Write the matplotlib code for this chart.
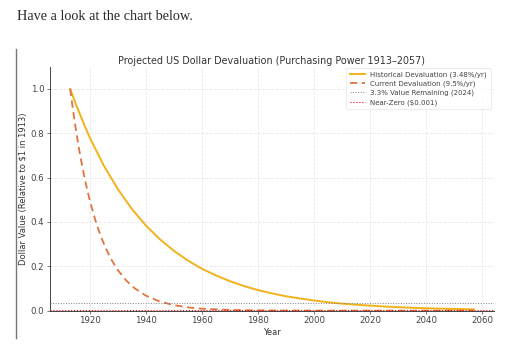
"""Projected US dollar devaluation chart, embedded in a page-like frame."""
import matplotlib
matplotlib.use('Agg')
import matplotlib.pyplot as plt
from matplotlib.lines import Line2D

# Values
hist_years = [1913, 1915, 1918, 1920, 1925, 1930, 1935, 1940, 1945, 1950, 1955,
              1960, 1965, 1970, 1975, 1980, 1985, 1990, 1995, 2000, 2005, 2010,
              2015, 2020, 2025, 2030, 2035, 2040, 2045, 2050, 2057]
hist_values = [1.0, 0.932, 0.838, 0.780, 0.654, 0.548, 0.459, 0.384, 0.322, 0.270,
               0.226, 0.189, 0.159, 0.133, 0.111, 0.093, 0.078, 0.065, 0.055, 0.046,
               0.038, 0.032, 0.027, 0.023, 0.019, 0.016, 0.013, 0.011, 0.0093,
               0.0078, 0.0061]

curr_years = [1913, 1914, 1915, 1916, 1917, 1918, 1919, 1920, 1922, 1924, 1926,
              1928, 1930, 1933, 1936, 1940, 1945, 1950, 1955, 1960, 1970, 1980,
              1990, 2000, 2010, 2030, 2057]
curr_values = [1.0, 0.905, 0.819, 0.741, 0.671, 0.607, 0.549, 0.497, 0.407, 0.333,
               0.273, 0.224, 0.183, 0.136, 0.101, 0.068, 0.041, 0.025, 0.015, 0.009,
               0.0034, 0.0013, 0.0005, 0.0002, 0.0001, 0.0, 0.0]

remaining_level = 0.033
near_zero_level = 0.001

labels = ['Historical Devaluation (3.48%/yr)', 'Current Devaluation (9.5%/yr)',
          '3.3% Value Remaining (2024)', 'Near-Zero ($0.001)']

HIST_COLOR = '#f2b21b'
CURR_COLOR = '#e07440'

fig = plt.figure(figsize=(5.12, 3.44), dpi=100, facecolor='white')

# page text and quote bar
fig.text(17 / 512, 1 - 17 / 344, 'Have a look at the chart below.', ha='left', va='center',
         fontsize=10.3, color='#2a2a2a', family='Liberation Serif')
fig.add_artist(Line2D([16 / 512, 16 / 512], [1 - 49 / 344, 1 - 338 / 344],
                      color='#777777', linewidth=1.0))

ax = fig.add_axes([50 / 512, 1 - 310.7 / 344, 444 / 512, 244 / 344])
ax.plot(hist_years, hist_values, color=HIST_COLOR, linewidth=1.4, label=labels[0])
ax.plot(curr_years, curr_values, color=CURR_COLOR, linewidth=1.3, linestyle='--',
        dashes=(4, 2.5), label=labels[1])
ax.axhline(remaining_level, color='gray', linewidth=0.7, linestyle=':', label=labels[2])
ax.axhline(near_zero_level, color='red', linewidth=0.8, linestyle=':', label=labels[3])

ax.set_ylim(0, 1.1)
ax.set_yticks([0.0, 0.2, 0.4, 0.6, 0.8, 1.0])
ax.set_xticks(range(1920, 2061, 20))
ax.grid(True, color='#e2e2e2', linewidth=0.6, linestyle='--', alpha=0.8)
for side in ['top', 'right']:
    ax.spines[side].set_visible(False)
for side in ['left', 'bottom']:
    ax.spines[side].set_color('#444444')
    ax.spines[side].set_linewidth(0.7)
ax.tick_params(labelsize=6.2, colors='#444444', length=2, width=0.5, pad=2)

ax.set_title('Projected US Dollar Devaluation (Purchasing Power 1913\u20132057)',
             fontsize=6.9, color='#333333', pad=2)
ax.set_xlabel('Year', fontsize=6, color='#333333', labelpad=2)
ax.set_ylabel('Dollar Value (Relative to $1 in 1913)', fontsize=6, color='#333333')
ax.yaxis.set_label_coords(-0.05, 0.5)

leg = ax.legend(loc='upper right', fontsize=5.0, frameon=True, handlelength=2.2,
                borderpad=0.5, labelspacing=0.4, bbox_to_anchor=(1.0, 1.01))
leg.get_frame().set_edgecolor('#dddddd')
leg.get_frame().set_linewidth(0.5)
for t in leg.get_texts():
    t.set_color('#444444')

fig.savefig('out.png', dpi=100, facecolor='white')
plt.close(fig)
